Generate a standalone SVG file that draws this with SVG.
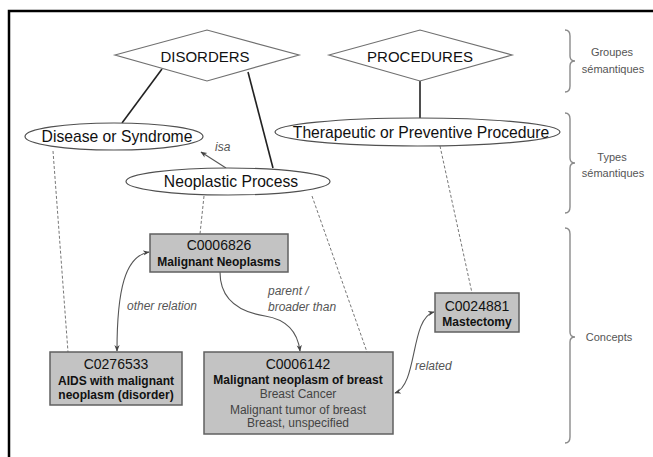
<svg xmlns="http://www.w3.org/2000/svg" width="653" height="457" viewBox="0 0 653 457">
<style>
text{font-family:"Liberation Sans",Arial,sans-serif;}
.dia{fill:#fff;stroke:#707070;stroke-width:1.2;}
.ell{fill:#fff;stroke:#505050;stroke-width:1.2;}
.box{fill:#c3c3c3;stroke:#606060;stroke-width:1.5;}
.big{font-size:15px;fill:#111;text-anchor:middle;}
.ellt{font-size:15.7px;fill:#111;text-anchor:middle;}
.id{font-size:14px;fill:#111;text-anchor:middle;}
.nm{font-size:12px;font-weight:bold;fill:#111;text-anchor:middle;}
.syn{font-size:12px;fill:#444;text-anchor:middle;}
.lbl{font-size:12px;font-style:italic;fill:#555;}
.side{font-size:11px;fill:#555;text-anchor:middle;}
.solid{fill:none;stroke:#222;stroke-width:1.6;}
.dash{fill:none;stroke:#777;stroke-width:1;stroke-dasharray:3,2;}
.curve{fill:none;stroke:#555;stroke-width:1.1;}
.brace{fill:none;stroke:#8a8a8a;stroke-width:1.4;}
</style>
<defs>
<marker id="ah" viewBox="0 0 10 10" refX="9" refY="5" markerWidth="6" markerHeight="6" orient="auto-start-reverse">
<path d="M0,1 L10,5 L0,9 L3,5 Z" fill="#444"/>
</marker>
</defs>
<rect width="653" height="457" fill="#fff"/>
<path d="M9,457 L9,11 L653,11" fill="none" stroke="#000" stroke-width="2.5"/>

<g id="connectors">
<line class="solid" x1="162" y1="69" x2="122" y2="123"/>
<line class="solid" x1="248" y1="72" x2="273" y2="168"/>
<line class="solid" x1="420" y1="81" x2="420" y2="118"/>
<line class="curve" x1="226" y1="168" x2="201" y2="152" marker-end="url(#ah)"/>
<line class="dash" x1="53" y1="151" x2="68" y2="352"/>
<line class="dash" x1="204" y1="196" x2="200" y2="234"/>
<line class="dash" x1="312" y1="196" x2="367" y2="352"/>
<line class="dash" x1="440" y1="146" x2="472" y2="293"/>
<path class="curve" d="M149,252 C125,256 117,290 117,351" marker-start="url(#ah)" marker-end="url(#ah)"/>
<path class="curve" d="M220,272 C220,300 240,312 265,316 C290,320 298,335 300,351" marker-end="url(#ah)"/>
<path class="curve" d="M434,312 C410,318 418,385 395,393" marker-start="url(#ah)" marker-end="url(#ah)"/>
<text class="lbl" x="215" y="151" font-size="11">isa</text>
<text class="lbl" x="127" y="310">other relation</text>
<text class="lbl" x="268" y="295">parent /</text>
<text class="lbl" x="268" y="311">broader than</text>
<text class="lbl" x="415" y="370">related</text>
</g>

<g id="disorders">
<polygon class="dia" points="115,55 207,30 299,55 207,81"/>
<text class="big" x="205" y="62">DISORDERS</text>
</g>
<g id="procedures">
<polygon class="dia" points="329,55 420,30 512,55 420,81"/>
<text class="big" x="420" y="62">PROCEDURES</text>
</g>
<g id="disease">
<ellipse class="ell" cx="114" cy="136.5" rx="89" ry="13.5"/>
<text class="ellt" x="117" y="142">Disease or Syndrome</text>
</g>
<g id="therapeutic">
<ellipse class="ell" cx="417.5" cy="132" rx="142.5" ry="14"/>
<text class="ellt" x="421" y="137.5">Therapeutic or Preventive Procedure</text>
</g>
<g id="neoplastic">
<ellipse class="ell" cx="228" cy="181.5" rx="102" ry="13.5"/>
<text class="ellt" x="231" y="187">Neoplastic Process</text>
</g>
<g id="c0006826">
<rect class="box" x="150" y="234" width="138" height="38"/>
<text class="id" x="219" y="250">C0006826</text>
<text class="nm" x="219" y="266">Malignant Neoplasms</text>
</g>
<g id="c0276533">
<rect class="box" x="50" y="352" width="132" height="53"/>
<text class="id" x="116" y="369">C0276533</text>
<text class="nm" x="116" y="385">AIDS with malignant</text>
<text class="nm" x="116" y="399">neoplasm (disorder)</text>
</g>
<g id="c0006142">
<rect class="box" x="204" y="352" width="189" height="82"/>
<text class="id" x="298" y="369">C0006142</text>
<text class="nm" x="298" y="384">Malignant neoplasm of breast</text>
<text class="syn" x="298" y="398">Breast Cancer</text>
<text class="syn" x="298" y="414">Malignant tumor of breast</text>
<text class="syn" x="298" y="427">Breast, unspecified</text>
</g>
<g id="c0024881">
<rect class="box" x="435" y="293" width="84" height="39"/>
<text class="id" x="477" y="311">C0024881</text>
<text class="nm" x="477" y="326">Mastectomy</text>
</g>

<g id="braces">
<path class="brace" d="M565,30 Q570,30 570,36 L570,56 Q570,61 575,61 Q570,61 570,66 L570,86 Q570,92 565,92"/>
<path class="brace" d="M565,113 Q570,113 570,119 L570,158 Q570,163 575,163 Q570,163 570,168 L570,207 Q570,213 565,213"/>
<path class="brace" d="M565,228 Q570,228 570,234 L570,332 Q570,337 575,337 Q570,337 570,342 L570,437 Q570,443 565,443"/>
<text class="side" x="612" y="56">Groupes</text>
<text class="side" x="613" y="73">sémantiques</text>
<text class="side" x="612" y="161">Types</text>
<text class="side" x="613" y="177">sémantiques</text>
<text class="side" x="609" y="341" font-size="12">Concepts</text>
</g>
</svg>
